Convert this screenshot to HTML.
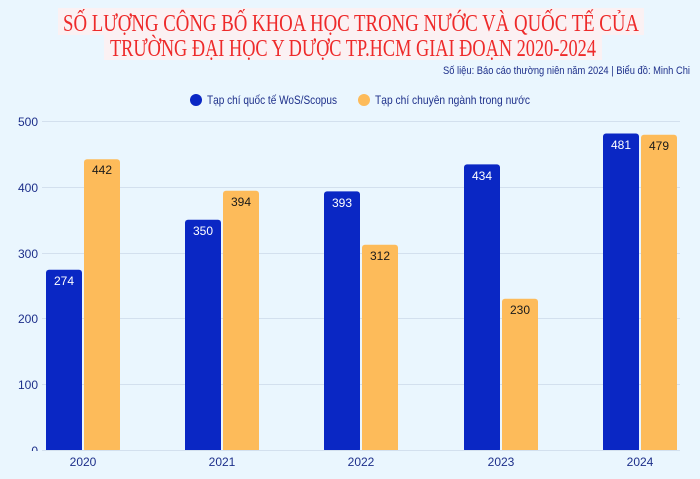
<!DOCTYPE html>
<html><head><meta charset="utf-8"><style>
body{margin:0;width:700px;height:474px;background:#eaf6fe;overflow:hidden;font-family:"Liberation Sans",sans-serif;}
</style></head><body>
<svg width="700" height="474" xmlns="http://www.w3.org/2000/svg">
<rect x="58" y="8" width="586" height="27" fill="#fbf1f3"/>
<rect x="104" y="35" width="498" height="25" fill="#fbf1f3"/>
<g font-family="Liberation Serif,serif" fill="#ee2a2a" font-size="24" text-anchor="middle">
<text x="351" y="31" textLength="576" lengthAdjust="spacingAndGlyphs">SỐ LƯỢNG CÔNG BỐ KHOA HỌC TRONG NƯỚC VÀ QUỐC TẾ CỦA</text>
<text x="353" y="56" textLength="486" lengthAdjust="spacingAndGlyphs">TRƯỜNG ĐẠI HỌC Y DƯỢC TP.HCM GIAI ĐOẠN 2020-2024</text>
</g>
<text x="443" y="74" font-size="11" fill="#1d2f8a" textLength="247" lengthAdjust="spacingAndGlyphs">Số liệu: Báo cáo thường niên năm 2024 | Biểu đồ: Minh Chi</text>
<circle cx="196" cy="100" r="6" fill="#0a27c4"/>
<text x="207" y="104" font-size="12" fill="#1d2f8a" textLength="130" lengthAdjust="spacingAndGlyphs">Tạp chí quốc tế WoS/Scopus</text>
<circle cx="364" cy="100" r="6" fill="#fdbb5a"/>
<text x="375" y="104" font-size="12" fill="#1d2f8a" textLength="155" lengthAdjust="spacingAndGlyphs">Tạp chí chuyên ngành trong nước</text>
<g stroke="#d3e0ee" stroke-width="1">
<line x1="42" x2="680" y1="121.5" y2="121.5"/><line x1="42" x2="680" y1="187.5" y2="187.5"/>
<line x1="42" x2="680" y1="253.5" y2="253.5"/><line x1="42" x2="680" y1="318.5" y2="318.5"/>
<line x1="42" x2="680" y1="384.5" y2="384.5"/><line x1="42" x2="680" y1="450.5" y2="450.5"/>
</g>
<g font-size="12" fill="#1d2f8a" text-anchor="end">
<text x="38" y="126">500</text><text x="38" y="192">400</text><text x="38" y="258">300</text>
<text x="38" y="323">200</text><text x="38" y="389">100</text><text x="38" y="455">0</text>
</g>
<g fill="#0a27c4">
<rect x="46" y="269.7" width="36" height="183" rx="3"/>
<rect x="185" y="219.7" width="36" height="233" rx="3"/>
<rect x="324" y="191.4" width="36" height="261" rx="3"/>
<rect x="464" y="164.4" width="36" height="288" rx="3"/>
<rect x="603" y="133.5" width="36" height="319" rx="3"/>
</g>
<g fill="#fdbb5a">
<rect x="84" y="159.2" width="36" height="293" rx="3"/>
<rect x="223" y="190.7" width="36" height="262" rx="3"/>
<rect x="362" y="244.7" width="36" height="208" rx="3"/>
<rect x="502" y="298.7" width="36" height="154" rx="3"/>
<rect x="641" y="134.8" width="36" height="318" rx="3"/>
</g>
<rect x="0" y="451" width="700" height="23" fill="#eaf6fe"/>
<line x1="42" x2="680" y1="450.5" y2="450.5" stroke="#d3e0ee"/>
<g font-size="12" text-anchor="middle" fill="#fff">
<text x="64" y="285">274</text><text x="203" y="235">350</text><text x="342" y="207">393</text>
<text x="482" y="180">434</text><text x="621" y="149">481</text>
</g>
<g font-size="12" text-anchor="middle" fill="#1a1a1a">
<text x="102" y="174">442</text><text x="241" y="206">394</text><text x="380" y="260">312</text>
<text x="520" y="314">230</text><text x="659" y="150">479</text>
</g>
<g font-size="12" text-anchor="middle" fill="#1d2f8a">
<text x="83" y="466">2020</text><text x="222" y="466">2021</text><text x="361" y="466">2022</text>
<text x="501" y="466">2023</text><text x="640" y="466">2024</text>
</g>
</svg>
</body></html>
